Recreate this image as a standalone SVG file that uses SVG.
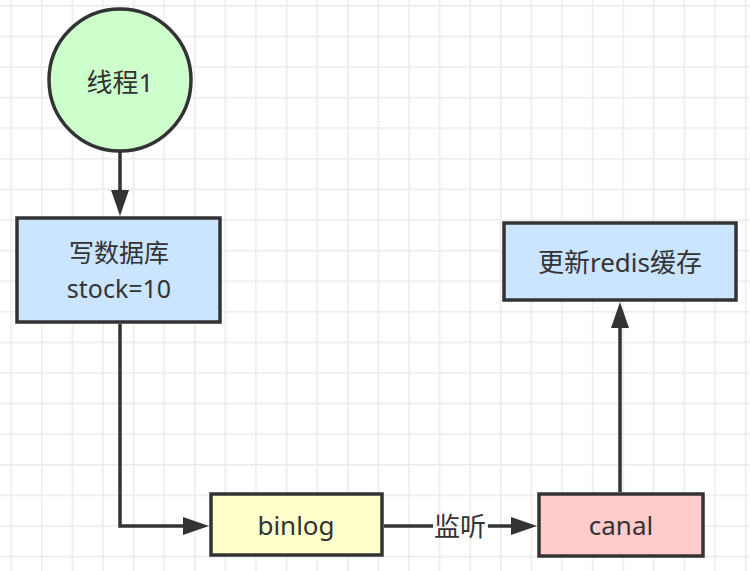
<svg xmlns="http://www.w3.org/2000/svg" width="750" height="571" viewBox="0 0 750 571">
<defs>
<pattern id="grid" x="10.4" y="5" width="30.6" height="30.6" patternUnits="userSpaceOnUse">
<path d="M0.75 0 V30.6 M0 0.75 H30.6" fill="none" stroke="#ebebeb" stroke-width="1.5"/>
</pattern>
<marker id="arrow" markerUnits="userSpaceOnUse" viewBox="0 0 26 18" markerWidth="26" markerHeight="18" refX="16" refY="9" orient="auto">
<path d="M0 0 L26 9 L0 18 Z" fill="#333333"/>
</marker>
</defs>
<style>
.node{stroke:#333333;stroke-width:3.5}
.lbl{font-family:"Noto Sans","Noto Sans CJK SC",sans-serif;font-size:26px;fill:#333333;text-anchor:middle;dominant-baseline:central}
.sm{font-size:25px}
.edge{fill:none;stroke:#333333;stroke-width:3.5}
</style>
<rect width="750" height="571" fill="#ffffff"/>
<rect width="750" height="571" fill="url(#grid)"/>
<g id="connectors">
<path class="edge" d="M120 152 V206" marker-end="url(#arrow)"/>
<path class="edge" d="M120 324 V526 H199" marker-end="url(#arrow)"/>
<path class="edge" d="M384 526 H433"/>
<path class="edge" d="M488 526 H527" marker-end="url(#arrow)"/>
<text class="lbl" x="460" y="526">监听</text>
<path class="edge" d="M620 492 V312" marker-end="url(#arrow)"/>
</g>
<g id="thread1">
<circle class="node" cx="120" cy="80" r="71" fill="#ccffcc"/>
<text class="lbl" x="120" y="82">线程1</text>
</g>
<g id="writedb">
<rect class="node" x="17" y="218" width="203" height="104" fill="#cce5ff"/>
<text class="lbl sm" x="119" y="252">写数据库</text>
<text class="lbl sm" x="119" y="288">stock=10</text>
</g>
<g id="redis">
<rect class="node" x="504" y="223" width="232" height="77" fill="#cce5ff"/>
<text class="lbl" x="620" y="262">更新redis缓存</text>
</g>
<g id="binlog">
<rect class="node" x="211" y="494" width="171" height="61" fill="#ffffcc"/>
<text class="lbl" x="296" y="525">binlog</text>
</g>
<g id="canal">
<rect class="node" x="539" y="494" width="164" height="62" fill="#ffcccc"/>
<text class="lbl" x="621" y="525">canal</text>
</g>
</svg>
